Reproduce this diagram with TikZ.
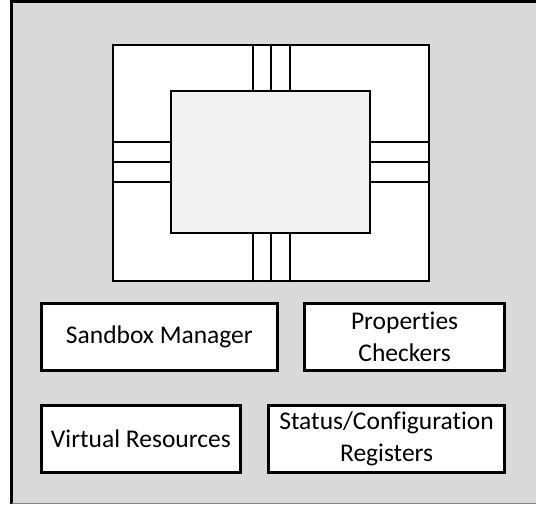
\documentclass[tikz,border=0pt]{standalone}
\usepackage{fontspec}
\setmainfont{Carlito}[Ligatures=NoCommon]
\usepackage{tikz}
\usetikzlibrary{positioning}
\definecolor{bggray}{HTML}{D9D9D9}
\definecolor{diegray}{HTML}{F2F2F2}
\tikzset{
chipbox/.style={draw,fill=white,minimum width=316pt,minimum height=236pt,inner sep=0pt},
diebox/.style={draw,fill=diegray,minimum width=199pt,minimum height=142pt,inner sep=0pt},
blockbox/.style={draw,fill=white,inner sep=0pt,align=center,
  font=\fontsize{25.5}{32}\selectfont,minimum height=67pt}
}

\begin{document}
\begin{tikzpicture}[x=1pt,y=-1pt,line width=2.8pt]
\useasboundingbox (0,0) rectangle (536,505);
\clip (0,0) rectangle (536,505);
\fill[bggray] (11.5,1.5) rectangle (560,504);
\draw (11.5,504) -- (11.5,1.5) -- (560,1.5);
\draw[gray,line width=1pt] (11.5,503.5) -- (560,503.5);

% chip with die and pins
\node[chipbox] (chip) at (271,163) {};
\node[diebox]  (die)  at (270.5,162) {};
\foreach \d in {-18,0,19} {
  \draw ([xshift=\d pt]chip.north) -- ([xshift=\d pt]chip.north |- die.north);
  \draw ([xshift=\d pt]chip.south) -- ([xshift=\d pt]chip.south |- die.south);
}
\foreach \d in {-21,-1,19} {
  \draw ([yshift=-\d pt]chip.west) -- ([yshift=-\d pt]chip.west -| die.west);
  \draw ([yshift=-\d pt]chip.east) -- ([yshift=-\d pt]chip.east -| die.east);
}

% blocks
\node[blockbox,minimum width=236pt,anchor=north west] (sandbox) at (40,302) {Sandbox Manager};
\node[blockbox,minimum width=200pt,anchor=north east] (checkers) at (506,302) {Properties\\Checkers};
\node[blockbox,minimum width=199pt,anchor=north west] (virtual) at (40,404) {Virtual Resources};
\node[blockbox,minimum width=236pt,anchor=north east] (registers) at (506,404) {Status/Configuration\\Registers};
\end{tikzpicture}
\end{document}
